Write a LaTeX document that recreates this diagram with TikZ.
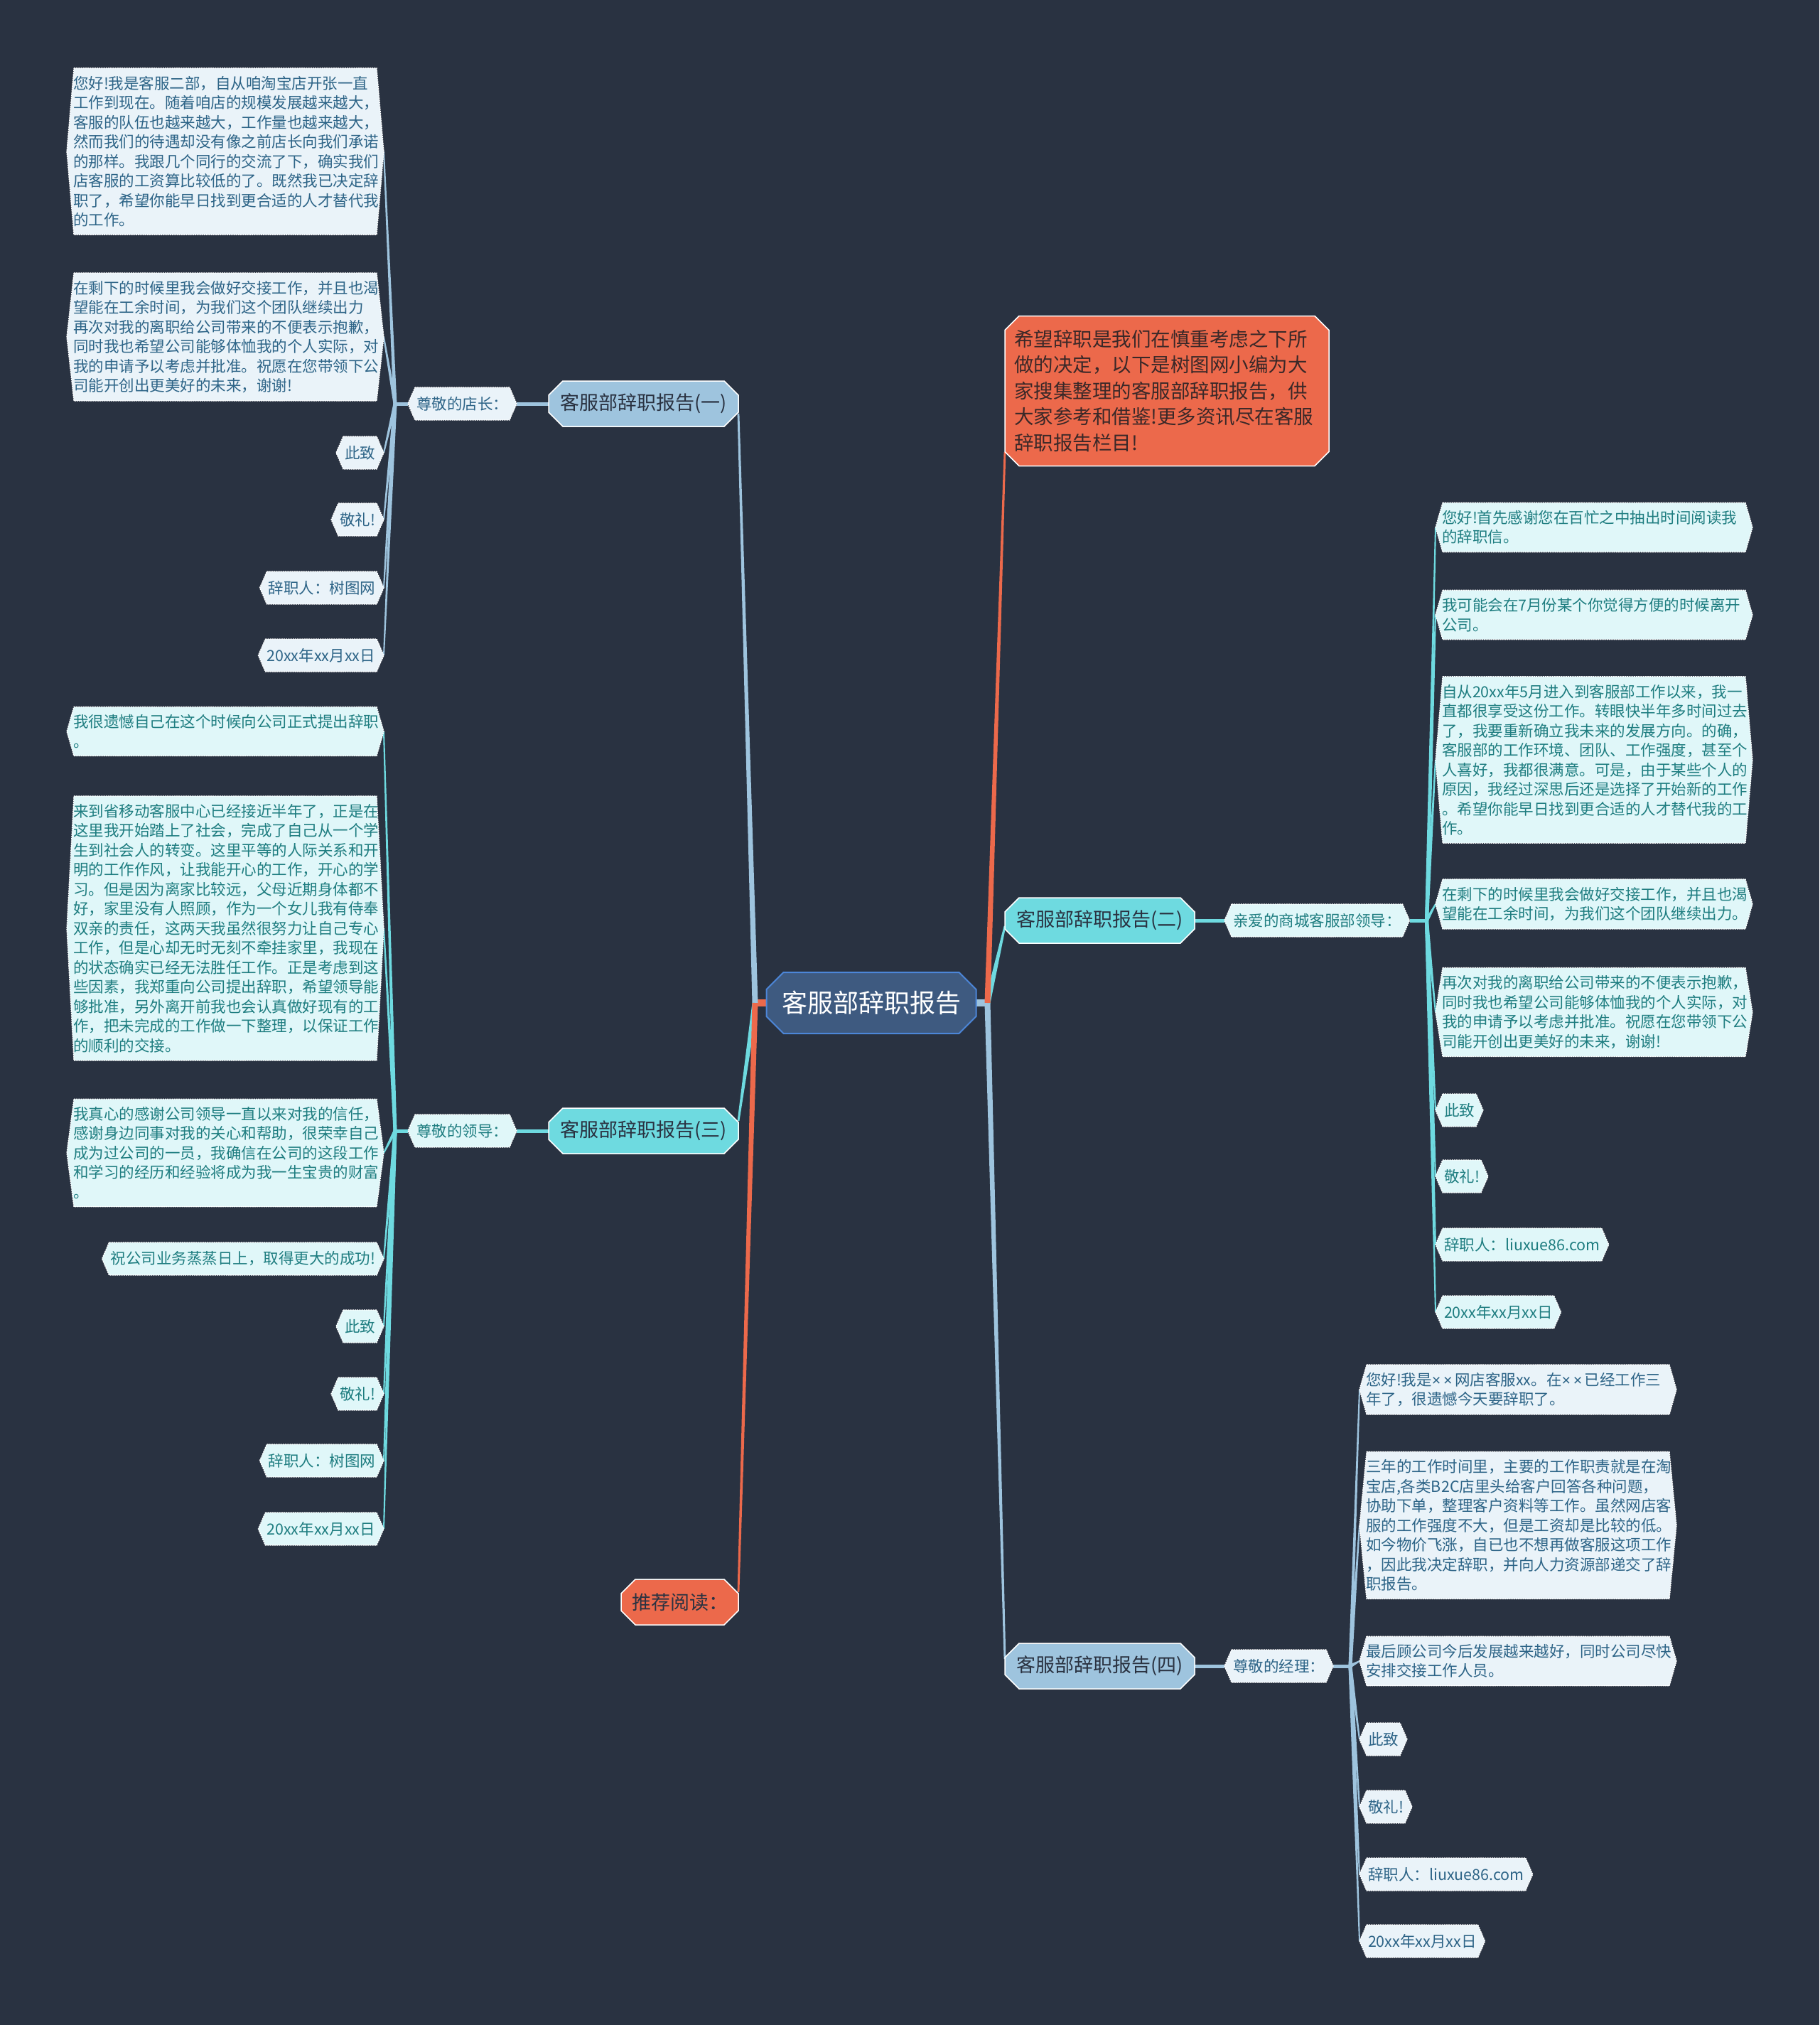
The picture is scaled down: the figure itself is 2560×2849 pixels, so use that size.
\documentclass[tikz,border=0pt]{standalone}
\usepackage{fontspec}
\setmainfont{Noto Sans CJK SC}
\newfontfamily\latinf{Liberation Sans}
\usetikzlibrary{shapes.misc,calc}
\definecolor{bgc}{RGB}{41,50,65}
\definecolor{rootf}{RGB}{62,90,128}
\definecolor{rootd}{RGB}{76,134,216}
\definecolor{lblue}{RGB}{158,196,222}
\definecolor{cyanb}{RGB}{110,218,224}
\definecolor{orng}{RGB}{236,105,75}
\definecolor{leafb}{RGB}{234,243,249}
\definecolor{leafc}{RGB}{224,247,249}
\definecolor{tblue}{RGB}{45,100,135}
\definecolor{tcyan}{RGB}{30,125,128}
\definecolor{darktext}{RGB}{42,50,65}
\definecolor{introtext}{RGB}{58,40,40}
\pgfdeclarelayer{bgl}
\pgfdeclarelayer{lns}
\pgfdeclarelayer{shp}
\pgfsetlayers{bgl,lns,shp,main}
\newcommand\hexshape[2]{%
  \path[#2] ($(#1.north west)+(10,0)$) -- ($(#1.north east)+(-10,0)$) -- (#1.east)
    -- ($(#1.south east)+(-10,0)$) -- ($(#1.south west)+(10,0)$) -- (#1.west) -- cycle;}
\newcommand\mmtaper[5]{%
  \fill[#3] ($(#1)!#4!90:(#2)$) -- ($(#2)!#5!-90:(#1)$) -- ($(#2)!#5!90:(#1)$) -- ($(#1)!#4!-90:(#2)$) -- cycle;}
\newcommand\mx{{\latinf ×\,}}
\tikzset{
  leafbase/.style={inner xsep=9pt, inner ysep=11pt, outer sep=0pt, font=\fontsize{21.5}{27.5}\selectfont},
  bigl/.style={leafbase, text width=428pt, align=left},
  smalll/.style={leafbase, minimum height=46pt, inner xsep=12pt},
  tb/.style={text=tblue},
  tc/.style={text=tcyan},
  hexb/.style={fill=leafb, draw=white, line width=1.3pt, dash pattern=on 2pt off 1.2pt},
  hexc/.style={fill=leafc, draw=white, line width=1.3pt, dash pattern=on 2pt off 1.2pt},
  branch/.style={chamfered rectangle, chamfered rectangle xsep=10pt, chamfered rectangle ysep=10pt,
    draw=white, line width=1.5pt, minimum height=64pt, minimum width=267pt, outer sep=0pt,
    font=\fontsize{27}{32}\selectfont, text=darktext},
}
\begin{document}
\begin{tikzpicture}[x=1pt,y=-1pt]
\begin{pgfonlayer}{bgl}
\fill[bgc] (0,0) rectangle (2560,2849);
\end{pgfonlayer}
\path[use as bounding box] (0,0) rectangle (2560,2849);

% root and branches
\node[chamfered rectangle, chamfered rectangle xsep=12pt, chamfered rectangle ysep=12pt, fill=rootf, draw=rootd,
  line width=2pt, minimum width=295pt, minimum height=86pt, outer sep=0pt, text=white,
  font=\fontsize{36}{40}\selectfont] (root) at (1226,1411) {客服部辞职报告};
\node[branch, fill=lblue, anchor=east] (b1) at (1039,568) {客服部辞职报告(一)};
\node[branch, fill=cyanb, anchor=east] (b3) at (1039,1591) {客服部辞职报告(三)};
\node[branch, fill=orng, anchor=east, minimum width=165pt] (rec) at (1039,2254) {推荐阅读：};
\node[branch, fill=cyanb, anchor=west] (b2) at (1414,1295) {客服部辞职报告(二)};
\node[branch, fill=lblue, anchor=west] (b4) at (1414,2344) {客服部辞职报告(四)};
\node[branch, fill=orng, anchor=west, minimum width=456pt, minimum height=211pt, text width=430pt,
  inner xsep=0pt, align=left, font=\fontsize{27.5}{36.5}\selectfont, text=introtext] (intro) at (1414,550)
  {希望辞职是我们在慎重考虑之下所\\做的决定，以下是树图网小编为大\\家搜集整理的客服部辞职报告，供\\大家参考和借鉴!更多资讯尽在客服\\辞职报告栏目!};

% sub nodes
\node[smalll, tb, anchor=east] (s1) at (727,568) {尊敬的店长：};
\node[smalll, tc, anchor=east] (s3) at (727,1591) {尊敬的领导：};
\node[smalll, tc, anchor=west] (s2) at (1723,1295) {亲爱的商城客服部领导：};
\node[smalll, tb, anchor=west] (s4) at (1723,2344) {尊敬的经理：};

% branch 1 leaves
\node[bigl, tb, anchor=east] (a1) at (540,213) {您好!我是客服二部，自从咱淘宝店开张一直\\工作到现在。随着咱店的规模发展越来越大，\\客服的队伍也越来越大，工作量也越来越大，\\然而我们的待遇却没有像之前店长向我们承诺\\的那样。我跟几个同行的交流了下，确实我们\\店客服的工资算比较低的了。既然我已决定辞\\职了，希望你能早日找到更合适的人才替代我\\的工作。};
\node[bigl, tb, anchor=east] (a2) at (540,474) {在剩下的时候里我会做好交接工作，并且也渴\\望能在工余时间，为我们这个团队继续出力\\再次对我的离职给公司带来的不便表示抱歉，\\同时我也希望公司能够体恤我的个人实际，对\\我的申请予以考虑并批准。祝愿在您带领下公\\司能开创出更美好的未来，谢谢!};
\node[smalll, tb, anchor=east] (a3) at (540,637) {此致};
\node[smalll, tb, anchor=east] (a4) at (540,731) {敬礼!};
\node[smalll, tb, anchor=east] (a5) at (540,827) {辞职人：树图网};
\node[smalll, tb, anchor=east] (a6) at (540,922) {20xx年xx月xx日};

% branch 3 leaves
\node[bigl, tc, anchor=east] (c1) at (540,1029) {我很遗憾自己在这个时候向公司正式提出辞职\\。};
\node[bigl, tc, anchor=east] (c2) at (540,1306) {来到省移动客服中心已经接近半年了，正是在\\这里我开始踏上了社会，完成了自己从一个学\\生到社会人的转变。这里平等的人际关系和开\\明的工作作风，让我能开心的工作，开心的学\\习。但是因为离家比较远，父母近期身体都不\\好，家里没有人照顾，作为一个女儿我有侍奉\\双亲的责任，这两天我虽然很努力让自己专心\\工作，但是心却无时无刻不牵挂家里，我现在\\的状态确实已经无法胜任工作。正是考虑到这\\些因素，我郑重向公司提出辞职，希望领导能\\够批准，另外离开前我也会认真做好现有的工\\作，把未完成的工作做一下整理，以保证工作\\的顺利的交接。};
\node[bigl, tc, anchor=east] (c3) at (540,1622) {我真心的感谢公司领导一直以来对我的信任，\\感谢身边同事对我的关心和帮助，很荣幸自己\\成为过公司的一员，我确信在公司的这段工作\\和学习的经历和经验将成为我一生宝贵的财富\\。};
\node[smalll, tc, anchor=east] (c4) at (540,1771) {祝公司业务蒸蒸日上，取得更大的成功!};
\node[smalll, tc, anchor=east] (c5) at (540,1866) {此致};
\node[smalll, tc, anchor=east] (c6) at (540,1961) {敬礼!};
\node[smalll, tc, anchor=east] (c7) at (540,2055) {辞职人：树图网};
\node[smalll, tc, anchor=east] (c8) at (540,2151) {20xx年xx月xx日};

% branch 2 leaves
\node[bigl, tc, anchor=west] (d1) at (2020,742) {您好!首先感谢您在百忙之中抽出时间阅读我\\的辞职信。};
\node[bigl, tc, anchor=west] (d2) at (2020,865) {我可能会在7月份某个你觉得方便的时候离开\\公司。};
\node[bigl, tc, anchor=west] (d3) at (2020,1069) {自从20xx年5月进入到客服部工作以来，我一\\直都很享受这份工作。转眼快半年多时间过去\\了，我要重新确立我未来的发展方向。的确，\\客服部的工作环境、团队、工作强度，甚至个\\人喜好，我都很满意。可是，由于某些个人的\\原因，我经过深思后还是选择了开始新的工作\\。希望你能早日找到更合适的人才替代我的工\\作。};
\node[bigl, tc, anchor=west] (d4) at (2020,1272) {在剩下的时候里我会做好交接工作，并且也渴\\望能在工余时间，为我们这个团队继续出力。};
\node[bigl, tc, anchor=west] (d5) at (2020,1424) {再次对我的离职给公司带来的不便表示抱歉，\\同时我也希望公司能够体恤我的个人实际，对\\我的申请予以考虑并批准。祝愿在您带领下公\\司能开创出更美好的未来，谢谢!};
\node[smalll, tc, anchor=west] (d6) at (2020,1562) {此致};
\node[smalll, tc, anchor=west] (d7) at (2020,1655) {敬礼!};
\node[smalll, tc, anchor=west] (d8) at (2020,1751) {辞职人：liuxue86.com};
\node[smalll, tc, anchor=west] (d9) at (2020,1846) {20xx年xx月xx日};

% branch 4 leaves
\node[bigl, tb, anchor=west] (e1) at (1913,1955) {您好!我是\mx\mx 网店客服xx。在\mx\mx 已经工作三\\年了，很遗憾今天要辞职了。};
\node[bigl, tb, anchor=west] (e2) at (1913,2146) {三年的工作时间里，主要的工作职责就是在淘\\宝店,各类B2C店里头给客户回答各种问题，\\协助下单，整理客户资料等工作。虽然网店客\\服的工作强度不大，但是工资却是比较的低。\\如今物价飞涨，自已也不想再做客服这项工作\\，因此我决定辞职，并向人力资源部递交了辞\\职报告。};
\node[bigl, tb, anchor=west] (e3) at (1913,2337) {最后顾公司今后发展越来越好，同时公司尽快\\安排交接工作人员。};
\node[smalll, tb, anchor=west] (e4) at (1913,2447) {此致};
\node[smalll, tb, anchor=west] (e5) at (1913,2542) {敬礼!};
\node[smalll, tb, anchor=west] (e6) at (1913,2637) {辞职人：liuxue86.com};
\node[smalll, tb, anchor=west] (e7) at (1913,2731) {20xx年xx月xx日};

% leaf shapes
\begin{pgfonlayer}{shp}
\foreach \n in {s1,s4,a1,a2,a3,a4,a5,a6,e1,e2,e3,e4,e5,e6,e7} {\hexshape{\n}{hexb}}
\foreach \n in {s2,s3,c1,c2,c3,c4,c5,c6,c7,c8,d1,d2,d3,d4,d5,d6,d7,d8,d9} {\hexshape{\n}{hexc}}
\end{pgfonlayer}

% connectors
\begin{pgfonlayer}{lns}
\coordinate (rjL) at ($(root.west)+(-16,0)$);
\coordinate (rjR) at ($(root.east)+(16,0)$);
\coordinate (b1p) at ($(b1.east)+(0,14)$);
\coordinate (b3p) at ($(b3.east)+(0,-14)$);
\coordinate (recp) at ($(rec.east)+(0,-14)$);
\coordinate (intp) at ($(intro.west)+(0,86)$);
\coordinate (b2p) at ($(b2.west)+(0,8)$);
\coordinate (b4p) at ($(b4.west)+(0,-10)$);
\draw[lblue, line width=10pt] (root.east) -- (rjR);
\draw[orng, line width=10pt] (root.west) -- (rjL);
\mmtaper{rjL}{b1p}{lblue}{4pt}{1.4pt}
\mmtaper{rjL}{b3p}{cyanb}{4pt}{1.4pt}
\mmtaper{rjL}{recp}{orng}{4pt}{1.4pt}
\mmtaper{rjR}{b4p}{lblue}{4pt}{1.4pt}
\mmtaper{rjR}{b2p}{cyanb}{4pt}{1.4pt}
\mmtaper{rjR}{intp}{orng}{4pt}{1.4pt}
% branch to sub
\draw[lblue, line width=5pt] (b1.west) -- (s1.east);
\draw[cyanb, line width=5pt] (b3.west) -- (s3.east);
\draw[cyanb, line width=5pt] (b2.east) -- (s2.west);
\draw[lblue, line width=5pt] (b4.east) -- (s4.west);
% sub junctions
\coordinate (j1) at ($(s1.west)+(-18,0)$);
\coordinate (j3) at ($(s3.west)+(-18,0)$);
\coordinate (j2) at ($(s2.east)+(24,0)$);
\coordinate (j4) at ($(s4.east)+(24,0)$);
\draw[lblue, line width=5pt] (s1.west) -- (j1);
\draw[cyanb, line width=5pt] (s3.west) -- (j3);
\draw[cyanb, line width=5pt] (s2.east) -- (j2);
\draw[lblue, line width=5pt] (s4.east) -- (j4);
\foreach \n in {a1,a2,a3,a4,a5,a6} {\mmtaper{j1}{\n.east}{lblue}{2.5pt}{1pt}}
\foreach \n in {c1,c2,c3,c4,c5,c6,c7,c8} {\mmtaper{j3}{\n.east}{cyanb}{2.5pt}{1pt}}
\foreach \n in {d1,d2,d3,d4,d5,d6,d7,d8,d9} {\mmtaper{j2}{\n.west}{cyanb}{2.5pt}{1pt}}
\foreach \n in {e1,e2,e3,e4,e5,e6,e7} {\mmtaper{j4}{\n.west}{lblue}{2.5pt}{1pt}}
\end{pgfonlayer}
\end{tikzpicture}
\end{document}
